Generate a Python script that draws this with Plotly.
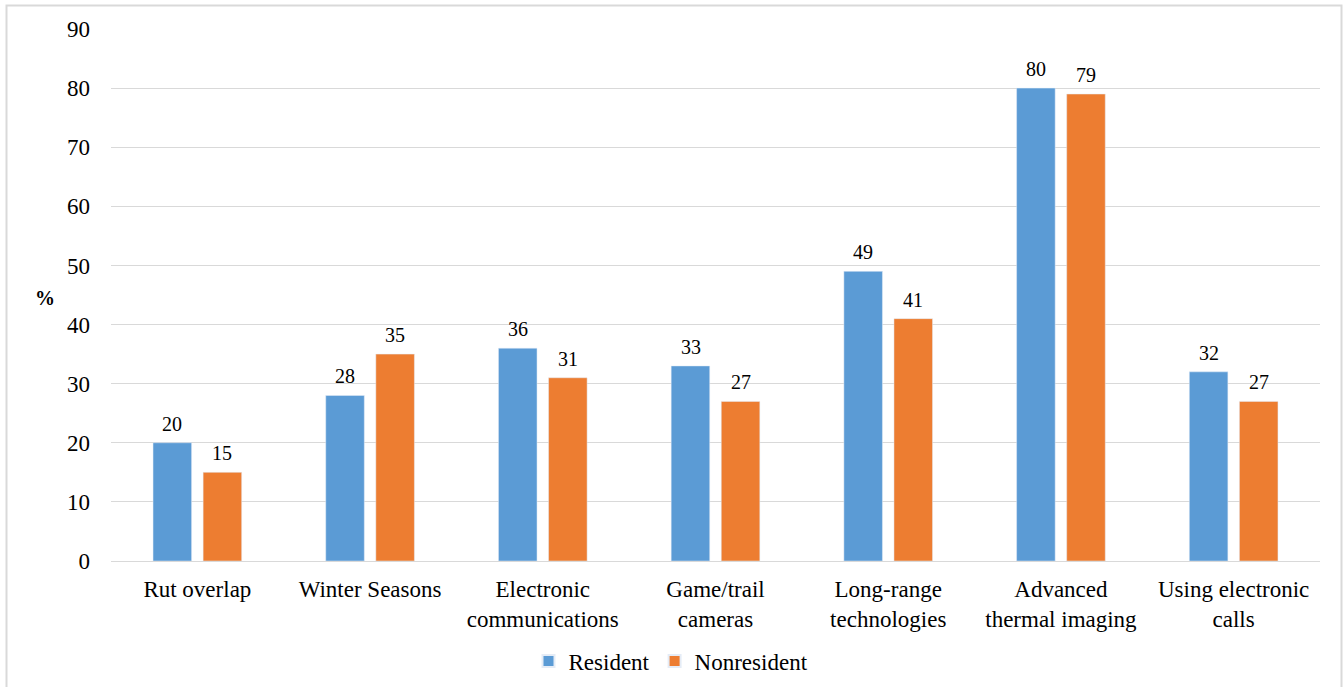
import plotly.graph_objects as go

categories = ["Rut overlap", "Winter Seasons", "Electronic<br>communications",
              "Game/trail<br>cameras", "Long-range<br>technologies",
              "Advanced<br>thermal imaging", "Using electronic<br>calls"]
resident = [20, 28, 36, 33, 49, 80, 32]
nonresident = [15, 35, 31, 27, 41, 79, 27]
y_ticks = [0, 10, 20, 30, 40, 50, 60, 70, 80, 90]

FONT = "Liberation Serif"
W, H = 1343, 687
L, R, T, B = 111, 23, 29, 126
pw, ph = W - L - R, H - T - B

def px(x):
    return (x - L) / pw

def py(y):
    return (H - B - y) / ph

fig = go.Figure()
fig.add_trace(go.Bar(name="Resident", x=categories, y=resident,
                     marker_color="#5B9BD5"))
fig.add_trace(go.Bar(name="Nonresident", x=categories, y=nonresident,
                     marker_color="#ED7D31"))

annotations = [dict(text="<b>%</b>", xref="paper", yref="paper", x=px(45), y=py(298),
                    showarrow=False, xanchor="center", yanchor="middle",
                    font=dict(size=20, family=FONT))]
slot_half = 25
for series, shift in ((resident, -slot_half), (nonresident, slot_half)):
    for cat, val in zip(categories, series):
        annotations.append(dict(x=cat, y=val, xref="x", yref="y", text=str(val),
                                showarrow=False, xanchor="center", yanchor="bottom",
                                xshift=shift, yshift=6,
                                font=dict(size=20, family=FONT, color="black")))

fig.update_layout(
    width=W, height=H,
    margin=dict(l=L, r=R, t=T, b=B, autoexpand=False),
    paper_bgcolor="white", plot_bgcolor="white",
    font=dict(family=FONT, size=23, color="black"),
    barmode="group", bargap=0.42, bargroupgap=0.23,
    showlegend=True,
    legend=dict(orientation="h", x=px(671), xanchor="center", y=py(661), yanchor="middle",
                font=dict(size=23, family=FONT), itemsizing="constant",
                traceorder="normal"),
    xaxis=dict(showgrid=False, showline=False, ticks="", automargin=False,
               tickfont=dict(size=23, family=FONT), ticklabelstandoff=12),
    yaxis=dict(range=[0, 90], tickvals=y_ticks, showgrid=True, gridcolor="#d9d9d9",
               gridwidth=1, zeroline=True, zerolinecolor="#d9d9d9", zerolinewidth=1,
               showline=False, ticks="", tickfont=dict(size=23, family=FONT),
               ticklabelstandoff=20, automargin=False),
    shapes=[dict(type="rect", xref="paper", yref="paper",
                 x0=px(6.5), x1=px(1341.5), y0=py(700), y1=py(5.5),
                 line=dict(color="#d9d9d9", width=2), fillcolor="rgba(0,0,0,0)",
                 layer="below")],
    annotations=annotations,
)

fig.write_html("out.html")
